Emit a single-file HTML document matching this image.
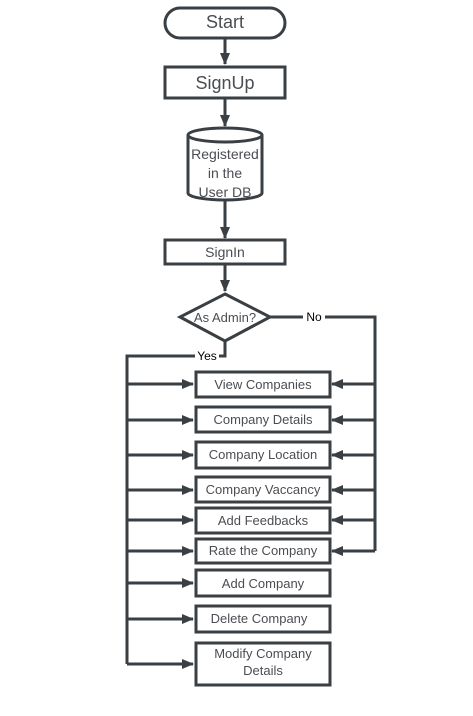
<!DOCTYPE html>
<html><head><style>
html,body{margin:0;padding:0;background:#fff;}
svg text{font-family:"Liberation Sans",sans-serif;fill:#4a4d52;}
</style></head><body>
<svg width="473" height="711" viewBox="0 0 473 711" xmlns="http://www.w3.org/2000/svg">
<defs>
<marker id="a" markerWidth="8" markerHeight="8" refX="7" refY="4" orient="auto" markerUnits="userSpaceOnUse">
<path d="M0,0 L8,4 L0,8 z" fill="#3a3f44"/></marker>
<marker id="b" markerWidth="12" markerHeight="10" refX="11" refY="5" orient="auto" markerUnits="userSpaceOnUse">
<path d="M0,0 L12,5 L0,10 z" fill="#3a3f44"/></marker>
</defs>
<g stroke="#3a3f44" stroke-width="3" fill="none">
<rect x="165" y="8" width="120" height="30" rx="15" fill="#fff"/>
<line x1="225" y1="38" x2="225" y2="64" marker-end="url(#b)"/>
<rect x="165" y="67" width="120" height="31" fill="#fff"/>
<line x1="225" y1="98" x2="225" y2="126" marker-end="url(#b)"/>
<path d="M188,135 L188,193 A37,7 0 0 0 262,193 L262,135 A37,7 0 0 0 188,135 A37,7 0 0 0 262,135" fill="#fff"/>
<line x1="225" y1="200" x2="225" y2="238" marker-end="url(#b)"/>
<rect x="165" y="240" width="120" height="24" fill="#fff"/>
<line x1="225" y1="264" x2="225" y2="291" marker-end="url(#b)"/>
<polygon points="225,294 270,317 225,341 180,317" fill="#fff"/>
<polyline points="225,341 225,356 127,356 127,664"/>
<polyline points="270,317 375,317 375,551"/>
</g>
<g stroke="#3a3f44" stroke-width="3">
<line x1="127" y1="384" x2="193" y2="384" marker-end="url(#b)"/>
<line x1="127" y1="420" x2="193" y2="420" marker-end="url(#b)"/>
<line x1="127" y1="455" x2="193" y2="455" marker-end="url(#b)"/>
<line x1="127" y1="490" x2="193" y2="490" marker-end="url(#b)"/>
<line x1="127" y1="520" x2="193" y2="520" marker-end="url(#b)"/>
<line x1="127" y1="551" x2="193" y2="551" marker-end="url(#b)"/>
<line x1="127" y1="583" x2="193" y2="583" marker-end="url(#b)"/>
<line x1="127" y1="619" x2="193" y2="619" marker-end="url(#b)"/>
<line x1="127" y1="664" x2="193" y2="664" marker-end="url(#b)"/>
<line x1="375" y1="384" x2="332" y2="384" marker-end="url(#b)"/>
<line x1="375" y1="420" x2="332" y2="420" marker-end="url(#b)"/>
<line x1="375" y1="455" x2="332" y2="455" marker-end="url(#b)"/>
<line x1="375" y1="490" x2="332" y2="490" marker-end="url(#b)"/>
<line x1="375" y1="520" x2="332" y2="520" marker-end="url(#b)"/>
<line x1="375" y1="551" x2="332" y2="551" marker-end="url(#b)"/>
</g>
<g stroke="#3a3f44" stroke-width="3" fill="#fff">
<rect x="196" y="372" width="134" height="25"/>
<rect x="196" y="407" width="134" height="25"/>
<rect x="196" y="442" width="134" height="26"/>
<rect x="196" y="477" width="134" height="25"/>
<rect x="196" y="508" width="134" height="25"/>
<rect x="196" y="539" width="134" height="24"/>
<rect x="196" y="570" width="134" height="26"/>
<rect x="196" y="606" width="134" height="26"/>
<rect x="196" y="643" width="134" height="42"/>
</g>
<rect x="303" y="310" width="22" height="14" fill="#fff"/>
<rect x="195" y="349" width="24" height="13" fill="#fff"/>
<text x="225" y="28" font-size="18" text-anchor="middle">Start</text>
<text x="225" y="89" font-size="18" text-anchor="middle">SignUp</text>
<text x="225" y="159" font-size="14" text-anchor="middle">Registered</text>
<text x="225" y="178" font-size="14" text-anchor="middle">in the</text>
<text x="225" y="197" font-size="14" text-anchor="middle">User DB</text>
<text x="225" y="257" font-size="14" text-anchor="middle">SignIn</text>
<text x="225" y="322" font-size="13" text-anchor="middle">As Admin?</text>
<text x="314" y="321" font-size="12" text-anchor="middle" style="fill:#000">No</text>
<text x="207" y="360" font-size="12" text-anchor="middle" style="fill:#000">Yes</text>
<g font-size="13" text-anchor="middle">
<text x="263" y="389">View Companies</text>
<text x="263" y="424">Company Details</text>
<text x="263" y="459">Company Location</text>
<text x="263" y="494">Company Vaccancy</text>
<text x="263" y="525">Add Feedbacks</text>
<text x="263" y="555">Rate the Company</text>
<text x="263" y="588">Add Company</text>
<text x="259" y="623">Delete Company</text>
<text x="263" y="658">Modify Company</text>
<text x="263" y="675">Details</text>
</g>
</svg>
</body></html>
